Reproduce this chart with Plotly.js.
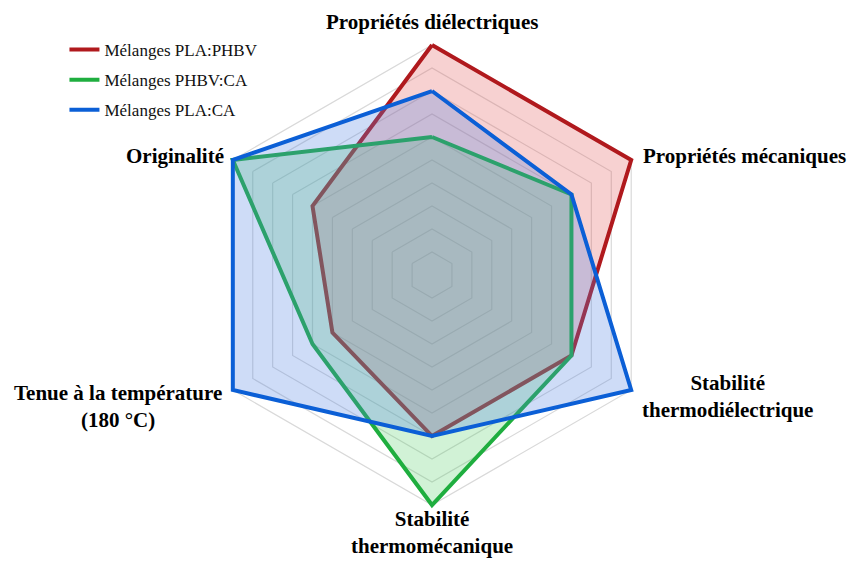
<!DOCTYPE html>
<html>
<head>
<meta charset="utf-8">
<script src="https://cdn.plot.ly/plotly-3.0.1.min.js"></script>
<style>
  html, body { margin: 0; padding: 0; background: #fff; }
  #chart { width: 848px; height: 562px; }
</style>
</head>
<body>
<div id="chart"></div>
<script>
const categories = [
  'Propriétés diélectriques',
  'Propriétés mécaniques',
  'Stabilité<br>thermodiélectrique',
  'Stabilité<br>thermomécanique',
  'Tenue à la température<br>(180 °C)',
  'Originalité'
];

const plaPhbv = [10, 10, 7, 7, 5, 6];
const phbvCa = [6, 7, 7, 10, 6, 10];
const plaCa = [8, 7, 10, 7, 10, 10];

const seriesNames = ['Mélanges PLA:PHBV', 'Mélanges PHBV:CA', 'Mélanges PLA:CA'];
const lineColors = ['#b0191d', '#1fae3f', '#0b5fd6'];
const fillColors = ['rgba(225,90,90,0.28)', 'rgba(70,205,90,0.25)', 'rgba(80,130,225,0.28)'];

// where each axis label sits on the page (px from left / top)
const labelPos = [
  { x: 432, y: 22, xanchor: 'center' },
  { x: 641, y: 156, xanchor: 'left' },
  { x: 727, y: 396, xanchor: 'center' },
  { x: 432, y: 532, xanchor: 'center' },
  { x: 118, y: 406, xanchor: 'center' },
  { x: 226, y: 156, xanchor: 'right' }
];

const W = 848, H = 562;
const closeLoop = arr => [...arr, arr[0]];

const traces = [plaPhbv, phbvCa, plaCa].map((vals, i) => ({
  type: 'scatterpolar',
  r: closeLoop(vals),
  theta: closeLoop(categories),
  mode: 'lines',
  fill: 'toself',
  fillcolor: fillColors[i],
  line: { color: lineColors[i], width: 4 },
  showlegend: false,
  hoverinfo: 'skip'
}));

// legend-only entries so the legend shows plain lines
const legendTraces = seriesNames.map((name, i) => ({
  type: 'scatterpolar',
  r: [null],
  theta: [categories[0]],
  mode: 'lines',
  name: name,
  legendgroup: 'g' + i,
  line: { color: lineColors[i], width: 4 }
}));

const annotations = categories.map((cat, i) => ({
  text: cat,
  xref: 'paper',
  yref: 'paper',
  x: labelPos[i].x / W,
  y: 1 - labelPos[i].y / H,
  xanchor: labelPos[i].xanchor,
  yanchor: 'middle',
  align: 'center',
  showarrow: false,
  font: { size: 21, weight: 'bold', family: '"Liberation Serif", "Times New Roman", serif', color: '#000' }
}));

const layout = {
  width: W,
  height: H,
  margin: { l: 0, r: 0, t: 0, b: 0 },
  paper_bgcolor: '#ffffff',
  font: { family: '"Liberation Serif", "Times New Roman", serif', color: '#000' },
  showlegend: true,
  legend: {
    x: 0.076,
    y: 0.943,
    xanchor: 'left',
    yanchor: 'top',
    font: { size: 17, family: '"Liberation Serif", serif', color: '#111' },
    tracegroupgap: 5,
    bgcolor: 'rgba(0,0,0,0)'
  },
  annotations: annotations,
  polar: {
    // range runs a little past 10 so the outer lines are not clipped
    domain: { x: [0.2328, 0.7861], y: [0.0932, 0.9281] },
    gridshape: 'linear',
    bgcolor: 'rgba(0,0,0,0)',
    radialaxis: {
      range: [0, 10.2],
      tickvals: [1, 2, 3, 4, 5, 6, 7, 8, 9, 10],
      showticklabels: false,
      ticks: '',
      showline: false,
      gridcolor: '#d9d9d9',
      gridwidth: 1.2,
      layer: 'below traces'
    },
    angularaxis: {
      rotation: 90,
      direction: 'clockwise',
      showgrid: false,
      showline: false,
      ticks: '',
      showticklabels: false,
      layer: 'below traces'
    }
  }
};

Plotly.newPlot('chart', [...traces, ...legendTraces], layout, { displayModeBar: false, staticPlot: true });
</script>
</body>
</html>
